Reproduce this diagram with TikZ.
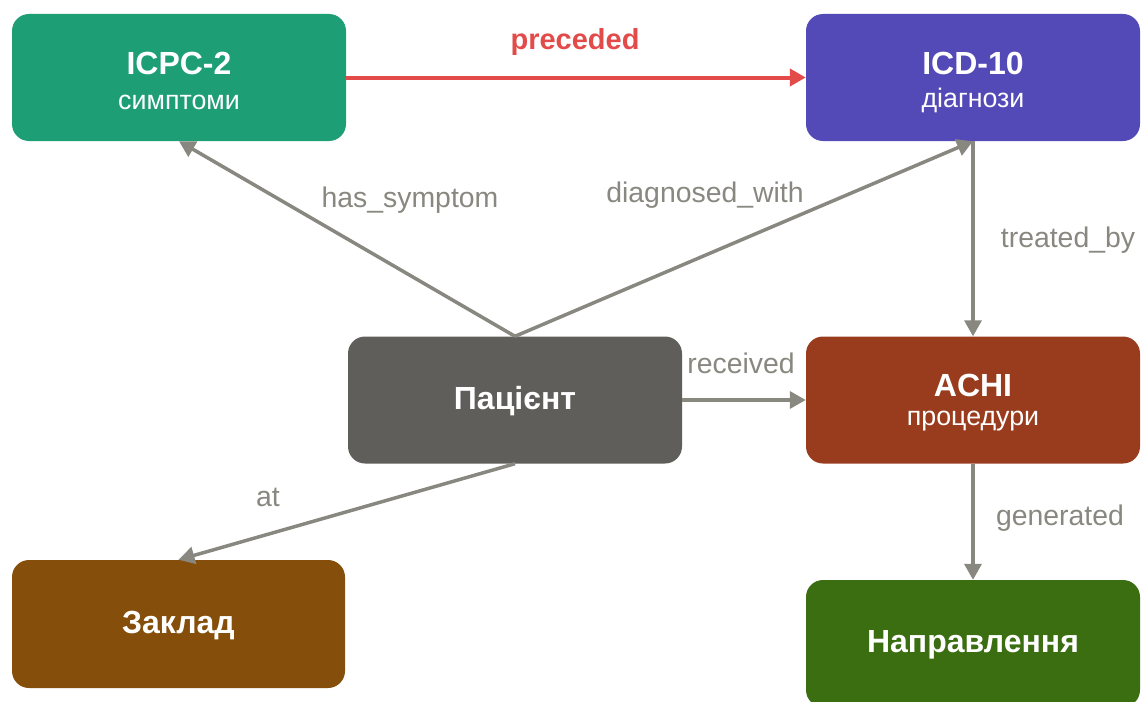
\documentclass[tikz,border=0pt]{standalone}
\usepackage{fontspec}
\setmainfont{Liberation Sans}
\usetikzlibrary{arrows.meta}
\definecolor{cGreen}{HTML}{1D9E75}
\definecolor{cPurple}{HTML}{534AB7}
\definecolor{cGrey}{HTML}{5F5E5A}
\definecolor{cRust}{HTML}{993C1D}
\definecolor{cBrown}{HTML}{854F0B}
\definecolor{cLeaf}{HTML}{3B6D11}
\definecolor{cRed}{HTML}{E24B4A}
\definecolor{cLine}{HTML}{888780}
\tikzset{
  entity/.style={rectangle, rounded corners=17pt, minimum width=334pt, minimum height=127pt, inner sep=0pt, text=white, align=center},
  ttl/.style={font=\bfseries\fontsize{32}{36}\selectfont, text=white, inner sep=0pt},
  sub/.style={font=\fontsize{26.8}{31}\selectfont, text=white, inner sep=0pt},
  rel/.style={draw=cLine, line width=3.5pt, -{Triangle[length=16pt,width=17pt]}},
  lbl/.style={font=\fontsize{28.4}{33}\selectfont, text=cLine, inner sep=0pt},
}
\begin{document}
\begin{tikzpicture}[x=1pt,y=-1pt]
\useasboundingbox (0,0) rectangle (1142,701);
% boxes
\node[entity, fill=cGreen]  (icpc) at (179,77.5) {};
\node[entity, fill=cPurple] (icd)  at (973,77.5) {};
\node[entity, fill=cGrey]   (pat)  at (515,400) {};
\node[entity, fill=cRust]   (achi) at (973,400) {};
\node[entity, fill=cBrown, minimum width=333pt, minimum height=128pt] (zak) at (178.5,624) {};
\node[entity, fill=cLeaf]   (nap)  at (973,643.5) {};
% texts
\node[ttl] (icpc-t) at (179,63) {ICPC-2};
\node[sub] (icpc-s) at (179,102) {симптоми};
\node[ttl] (icd-t) at (973,63) {ICD-10};
\node[sub] (icd-s) at (973,100) {діагнози};
\node[ttl] (pat-t) at (515,401) {Пацієнт};
\node[ttl] (achi-t) at (973,385) {ACHI};
\node[sub] (achi-s) at (973,421) {процедури};
\node[ttl] (zak-t) at (178.5,626) {Заклад};
\node[ttl] (nap-t) at (973,645) {Направлення};
% edges
\draw[rel, draw=cRed, line width=4pt] (icpc.east) -- (icd.west);
\draw[rel] (pat.north) -- (icpc.south);
\draw[rel] (pat.north) -- (icd.south);
\draw[rel] (icd.south) -- (achi.north);
\draw[rel] (pat.east) -- (achi.west);
\draw[rel] (pat.south) -- (zak.north);
\draw[rel] (achi.south) -- (nap.north);
% labels
\node[lbl, font=\bfseries\fontsize{29}{33}\selectfont, text=cRed] (l-prec) at (575,42) {preceded};
\node[lbl] (l-sym) at (410,200) {has\_symptom};
\node[lbl] (l-diag) at (705,195) {diagnosed\_with};
\node[lbl] (l-treat) at (1068,240) {treated\_by};
\node[lbl] (l-rec) at (741,363) {received};
\node[lbl] (l-at) at (268,497) {at};
\node[lbl] (l-gen) at (1060,518) {generated};
\end{tikzpicture}
\end{document}
